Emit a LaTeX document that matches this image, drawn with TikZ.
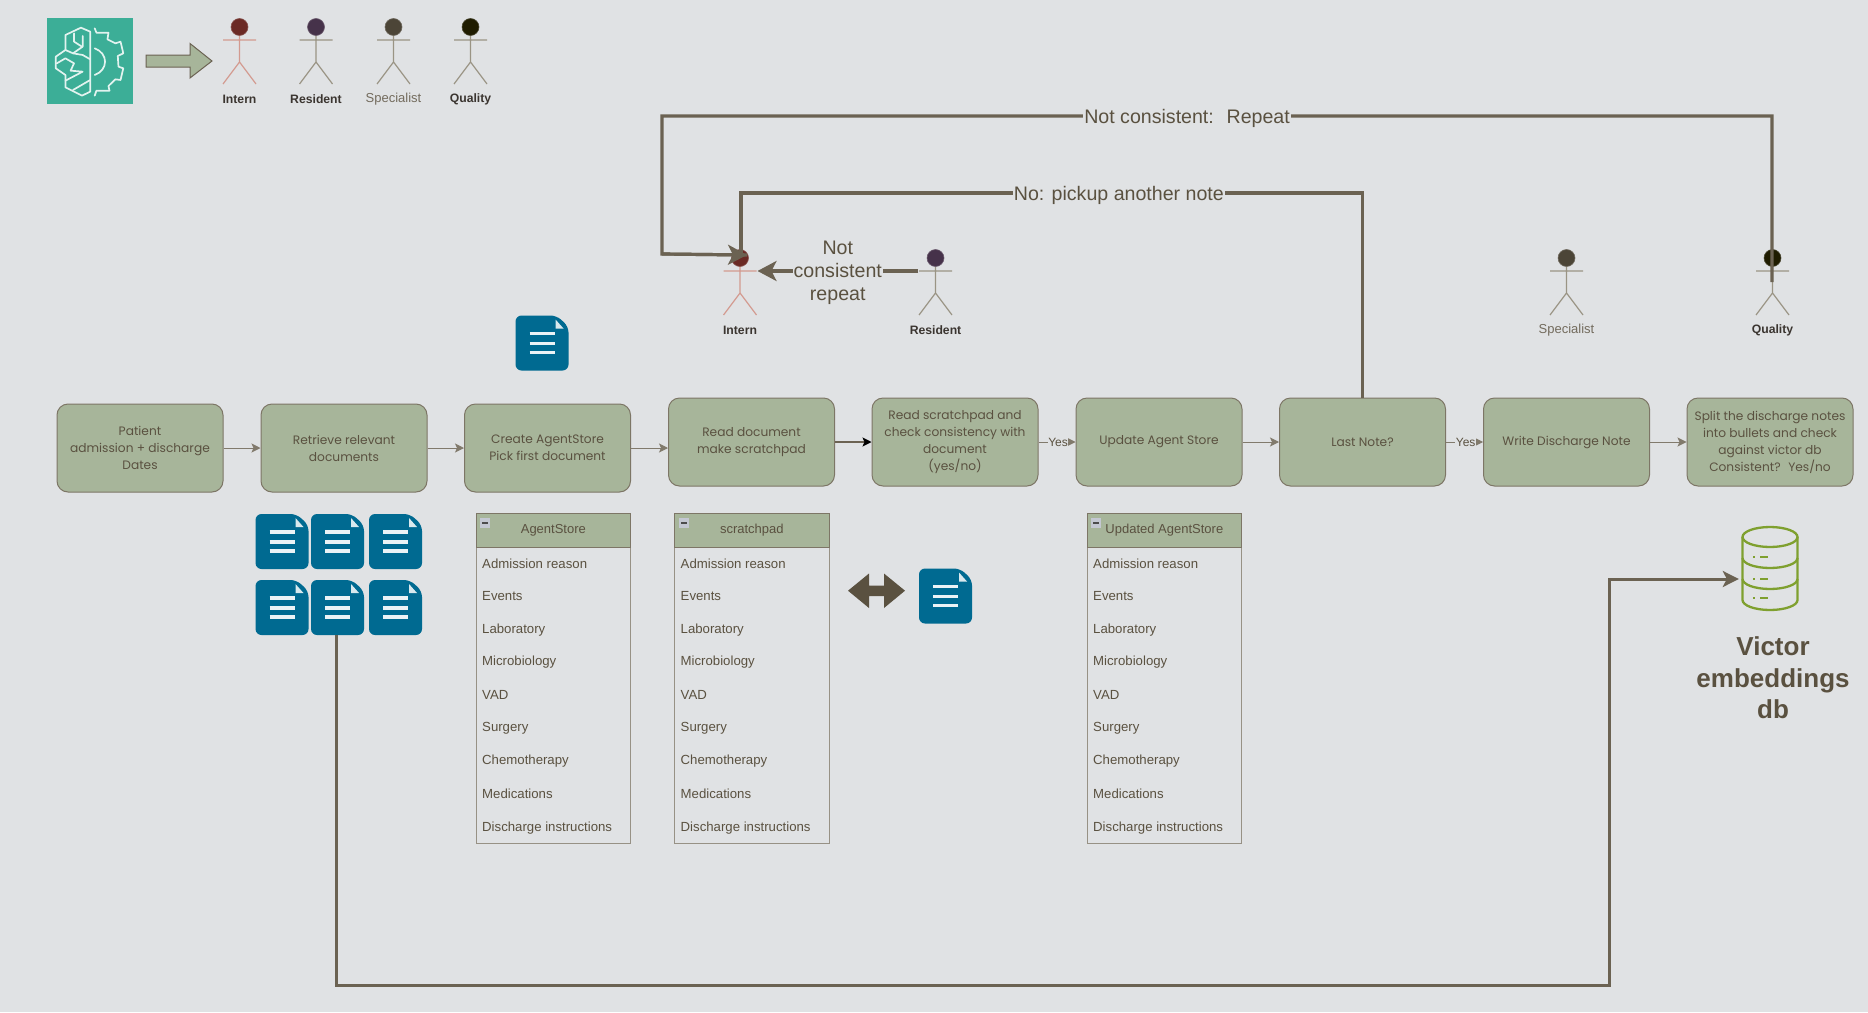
\documentclass[tikz,border=0pt]{standalone}
\usepackage{fontspec}
\setmainfont{Liberation Sans}
\newfontfamily\boxfont{Poppins}
\usetikzlibrary{arrows.meta,positioning}
\definecolor{bg}{HTML}{E0E2E4}
\definecolor{sage}{HTML}{A7B59A}
\definecolor{edgec}{HTML}{7D7666}
\definecolor{inkc}{HTML}{5A5140}
\definecolor{linkc}{HTML}{6B6252}
\definecolor{docblue}{HTML}{006A91}
\definecolor{teal}{HTML}{3CAE97}
\definecolor{dbgreen}{HTML}{7FA02F}
\definecolor{headintern}{HTML}{6B2A25}
\definecolor{headresident}{HTML}{46324A}
\definecolor{headspecialist}{HTML}{4C4537}
\definecolor{headquality}{HTML}{1F1C00}
\definecolor{limbintern}{HTML}{D39A8F}
\definecolor{limbother}{HTML}{9A9484}
\definecolor{actortext}{HTML}{3B3530}
\definecolor{minusbox}{HTML}{C4C8D2}
\tikzset{
  flowbox/.style={draw=edgec,line width=1pt,fill=sage,rounded corners=11pt,minimum width=166pt,minimum height=88pt,inner sep=1pt,align=center,text=inkc,font=\boxfont\fontsize{12.2}{17}\selectfont},
  flow/.style={draw=linkc!85!white,line width=1pt,-{Stealth[length=9pt,width=9pt,inset=2pt]}},
  thick link/.style={draw=linkc,line width=3.2pt},
  loop label/.style={fill=bg,inner sep=1pt,text=inkc,align=center,font=\fontsize{19.6}{23}\selectfont},
  yes label/.style={fill=bg,inner sep=0.5pt,text=inkc,font=\fontsize{12}{13}\selectfont},
  empty anchor/.style={inner sep=0pt,minimum width=53pt,minimum height=55pt},
  rowtext/.style={anchor=west,text=inkc,inner sep=0pt,font=\fontsize{13.2}{15}\selectfont},
  tablebox/.style={draw=edgec!80!white,line width=1.4pt,anchor=north west,minimum width=154.5pt,minimum height=330pt,inner sep=0pt},
  tablehead/.style={draw=edgec,line width=1.2pt,fill=sage,anchor=north west,minimum width=154.5pt,minimum height=33.5pt,inner sep=0pt,text=inkc,font=\fontsize{13}{15}\selectfont},
  actorlabel/.style={inner sep=0pt,font=\bfseries\fontsize{12.2}{14}\selectfont,text=actortext},
  specialistlabel/.style={inner sep=0pt,font=\fontsize{13}{14}\selectfont,text=inkc!85!white},
}
% name, x, y of head centre, head colour, line colour, label, label style
\newcommand{\stickman}[7]{%
  \draw[#5,line width=1.2pt] (#2,#3+13) -- +(-16.5,0) (#2,#3+13) -- +(16.5,0)
     (#2,#3) -- (#2,#3+35) coordinate (#1hip) -- +(-16.5,22) (#1hip) -- +(16.5,22);
  \node[circle,fill=#4,draw=#4!80!white,line width=.6pt,minimum size=17pt,inner sep=0pt] (#1head) at (#2,#3) {};
  \node[#7] (#1label) at (#2,#3+72.5) {#6};
}
\newcommand{\docicon}[3]{%
  \node[empty anchor,anchor=north west] (#1) at (#2,#3) {};
  \begin{scope}[shift={(#2,#3)}]
    \fill[docblue,rounded corners=6pt] (0,0) -- (41,0) -- (53,11) -- (53,55) -- (0,55) -- cycle;
    \fill[white!85!docblue] (40,4) -- (48,13) -- (40,13) -- cycle;
    \draw[white!92!docblue,line width=3.6pt] (14,18) -- (39,18) (14,28) -- (39,28) (14,37) -- (39,37);
  \end{scope}
}
\newcommand{\storetable}[3]{%
  \node[tablebox] (#1) at (#2,513) {};
  \node[tablehead] (#1head) at (#2,513) {#3};
  \fill[minusbox] (#2+4.5,518) rectangle (#2+14.5,528);
  \fill[black!70] (#2+6.5,522.2) rectangle (#2+12.5,523.8);
  \foreach \rowy/\rowname/\rowid in {564/Admission reason/a,596/Events/b,630/Laboratory/c,662/Microbiology/d,695/VAD/e,728/Surgery/f,761/Chemotherapy/g,794/Medications/h,828/Discharge instructions/i}{
    \node[rowtext] (#1\rowid) at (#2+6.5,\rowy) {\rowname};
  }
}
\begin{document}
\begin{tikzpicture}[x=1pt,y=-1pt]
\path[use as bounding box,fill=bg] (0,0) rectangle (1868,1012);

% brain and gear icon
\fill[teal] (46.5,18) rectangle (132.6,104);
\begin{scope}[x=0.3444pt,y=-0.3333pt,draw=white!85!teal,line width=1.7pt,line join=round,line cap=round]
  \draw (262,95) -- (235,83) -- (190,105) -- (190,150) -- (162,170) -- (162,205) -- (190,225) -- (190,262) -- (238,287) -- (262,275) -- cycle;
  \draw (215,100) -- (215,125) -- (238,140);
  \draw (240,108) -- (240,140) -- (212,160) -- (190,150);
  \draw (262,178) -- (240,165) -- (212,160);
  \draw (165,190) -- (190,175) -- (215,190) -- (205,212) -- (240,215) -- (190,242);
  \draw (262,240) -- (212,270);
  \draw (275,85) -- (280,98) -- (315,98) -- (312,118) -- (335,130) -- (350,125) -- (358,160) -- (342,168) -- (344,200) -- (358,205) -- (350,240) -- (335,238) -- (315,258) -- (318,272) -- (280,272) -- (275,287);
  \draw (275,145) .. controls (315,160) and (315,210) .. (275,225);
\end{scope}

% block arrow
\draw[fill=sage,draw=linkc,line width=1pt] (146,55) -- (190,55) -- (190,43.5) -- (212,61) -- (190,78) -- (190,67) -- (146,67) -- cycle;

% top row of actors
\stickman{ai}{239.5}{27}{headintern}{limbintern}{Intern}{actorlabel}
\stickman{ar}{316}{27}{headresident}{limbother}{Resident}{actorlabel}
\stickman{as}{393.5}{27}{headspecialist}{limbother}{Specialist}{specialistlabel}
\stickman{aq}{470.5}{27}{headquality}{limbother}{Quality}{actorlabel}

% lower actors
\stickman{li}{740}{258}{headintern}{limbintern}{Intern}{actorlabel}
\stickman{lr}{935.5}{258}{headresident}{limbother}{Resident}{actorlabel}
\stickman{ls}{1566.5}{258}{headspecialist}{limbother}{Specialist}{specialistlabel}
\stickman{lq}{1772.5}{258}{headquality}{limbother}{Quality}{actorlabel}

% process boxes
\node[flowbox] (b1) at (140,448) {Patient\\admission + discharge\\Dates};
\node[flowbox] (b2) at (344,448) {Retrieve relevant\\documents};
\node[flowbox] (b3) at (547.5,448) {Create AgentStore\\Pick first document};
\node[flowbox] (b4) at (751.5,442) {Read document\\make scratchpad};
\node[flowbox] (b5) at (955,442) {Read scratchpad and\\check consistency with\\document\\(yes/no)};
\node[flowbox] (b6) at (1159,442) {Update Agent Store};
\node[flowbox] (b7) at (1362.5,442) {Last Note?};
\node[flowbox] (b8) at (1566.5,442) {Write Discharge Note};
\node[flowbox] (b9) at (1770,442) {Split the discharge notes\\into bullets and check\\against victor db\\Consistent?~ Yes/no};

% flow arrows
\draw[flow] (b1) -- (b2);
\draw[flow] (b2) -- (b3);
\draw[flow] (b3) -- (b3 -| b4.west);
\draw[draw=linkc,line width=1.4pt,-{Stealth[length=9pt,width=9pt,inset=2pt,color=black]}] (b4) -- (b5);
\draw[flow] (b5) -- node[yes label,pos=.53] {Yes} (b6);
\draw[flow] (b6) -- (b7);
\draw[flow] (b7) -- node[yes label,pos=.53] {Yes} (b8);
\draw[flow] (b8) -- (b9);

% documents
\docicon{d0}{515.5}{315.5}
\docicon{d1}{255.5}{514}
\docicon{d2}{311}{514}
\docicon{d3}{369}{514}
\docicon{d4}{255.5}{580}
\docicon{d5}{311}{580}
\docicon{d6}{369}{580}
\docicon{d7}{919}{568.5}

% tables
\storetable{ta}{475.5}{AgentStore}
\storetable{tb}{674}{scratchpad}
\storetable{tc}{1086.5}{Updated AgentStore}

% double arrow
\draw[fill=inkc,draw=none] (848,590.7) -- (869,573.5) -- (869,585.5) -- (884,585.5) -- (884,573.5) -- (905,590.7) -- (884,608) -- (884,596) -- (869,596) -- (869,608) -- cycle;

% database icon
\node[inner sep=0pt,minimum width=56pt,minimum height=84pt] (db) at (1770,569) {};
\begin{scope}[draw=dbgreen,line width=2.3pt]
  \draw (1770,537) ellipse (27.5pt and 10pt);
  \draw (1742.5,537) -- (1742.5,600) arc[start angle=180,end angle=360,x radius=27.5pt,y radius=10pt] -- (1797.5,537);
  \draw (1742.5,558) arc[start angle=180,end angle=360,x radius=27.5pt,y radius=10pt];
  \draw (1742.5,579) arc[start angle=180,end angle=360,x radius=27.5pt,y radius=10pt];
  \draw (1753,557) -- (1755,557) (1760,557) -- (1768,557);
  \draw (1753,579) -- (1755,579) (1760,579) -- (1768,579);
  \draw (1753,598) -- (1755,598) (1760,598) -- (1768,598);
\end{scope}
\node[text=inkc,align=center,inner sep=0pt,font=\bfseries\fontsize{26}{31.5}\selectfont] (dblabel) at (1773,678) {Victor\\embeddings\\db};

% named free ends of the loops
\coordinate (qstart) at (1772,282);
\coordinate (itarget) at (747,255);
\coordinate (iarm) at (757.5,271);
\coordinate (rstart) at (918,271);

% thick connectors
\draw[thick link] (qstart) -- (1772,116) -- node[loop label,pos=.527,yshift=-2pt] (lbla) {Not consistent:~ Repeat} (662,116) -- (662,254) -- (itarget);
\draw[thick link] (b7.north) -- (1362.5,193) -- node[loop label,pos=.392,yshift=-2pt] (lblb) {No: pickup another note} (741,193) -- (741,254);
\draw[thick link,-{Stealth[length=19pt,width=20pt,inset=5pt]}] (662,254) -- (itarget);
\draw[thick link,-{Stealth[length=19pt,width=20pt,inset=5pt]}] (rstart) -- node[loop label,pos=.5,yshift=-2.2pt] (lblc) {Not\\consistent\\repeat} (iarm);
\draw[draw=linkc,line width=3pt,-{Stealth[length=16pt,width=16pt,inset=4pt]}] ([xshift=-1.5pt]d5.south) -- ([xshift=-1.5pt]d5.south |- 0,985) -- (1609,985) -- (1609,579) -- ([xshift=-3pt]db.west |- 0,579);
\end{tikzpicture}
\end{document}
